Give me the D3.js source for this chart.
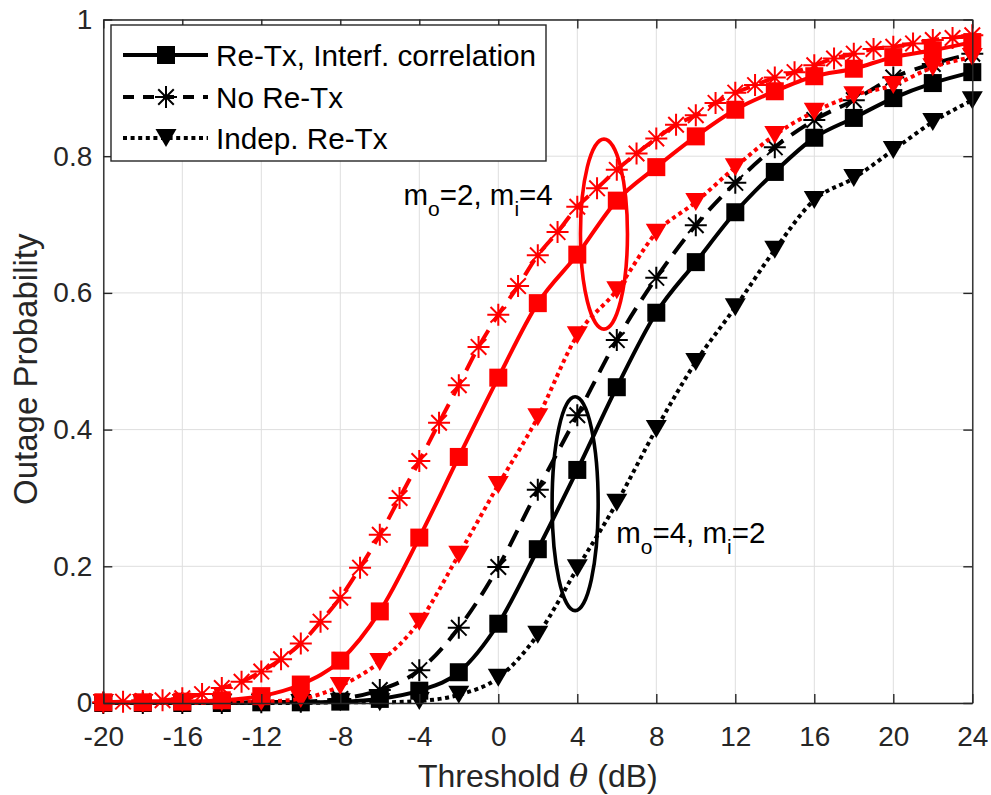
<!DOCTYPE html>
<html>
<head>
<meta charset="utf-8">
<script src="https://cdn.jsdelivr.net/npm/d3@7"></script>
<style>
  body { margin: 0; background: #fff; }
  text { font-family: "Liberation Sans", Arial, Helvetica, sans-serif; }
</style>
</head>
<body>
<svg id="chart" width="991" height="795"></svg>
<script>
// Threshold grids (dB)
const thetaStep2 = [-20, -18, -16, -14, -12, -10, -8, -6, -4, -2, 0, 2, 4, 6, 8, 10, 12, 14, 16, 18, 20, 22, 24];
const thetaStep1 = [-20, -19, -18, -17, -16, -15, -14, -13, -12, -11, -10, -9, -8, -7, -6, -5, -4, -3, -2, -1,
                    0, 1, 2, 3, 4, 5, 6, 7, 8, 9, 10, 11, 12, 13, 14, 15, 16, 17, 18, 19, 20, 21, 22, 23, 24];

// m_o = 4, m_i = 2 (black)
const corrM4 = [0, 0, 0, 0, 0.001, 0.001, 0.002, 0.006, 0.018, 0.045, 0.116, 0.225, 0.341, 0.462, 0.571,
                0.645, 0.718, 0.777, 0.827, 0.856, 0.885, 0.907, 0.923];
const noRetxM4 = [0, 0, 0, 0, 0.001, 0.002, 0.006, 0.019, 0.048, 0.11, 0.199, 0.312, 0.421, 0.531, 0.622,
                  0.699, 0.761, 0.813, 0.853, 0.882, 0.915, 0.935, 0.95];
const indepM4 = [0, 0, 0, 0, 0, 0, 0.001, 0.001, 0.003, 0.012, 0.037, 0.1, 0.197, 0.293, 0.401,
                 0.499, 0.579, 0.663, 0.736, 0.768, 0.809, 0.85, 0.882];

// m_o = 2, m_i = 4 (red)
const corrM2 = [0.001, 0.001, 0.002, 0.004, 0.01, 0.027, 0.062, 0.134, 0.242, 0.36, 0.476, 0.585, 0.656,
                0.735, 0.784, 0.829, 0.868, 0.895, 0.917, 0.928, 0.945, 0.955, 0.967];
const noRetxM2 = [0.001, 0.002, 0.003, 0.004, 0.007, 0.013, 0.022, 0.031, 0.046, 0.064, 0.087, 0.119, 0.154,
                  0.198, 0.246, 0.3, 0.354, 0.41, 0.465, 0.521, 0.568, 0.61, 0.655, 0.689, 0.726, 0.753,
                  0.78, 0.804, 0.826, 0.846, 0.86, 0.878, 0.893, 0.904, 0.915, 0.923, 0.933, 0.943, 0.95,
                  0.957, 0.96, 0.965, 0.97, 0.973, 0.977];
const indepM2 = [0, 0, 0, 0.001, 0.002, 0.006, 0.025, 0.06, 0.119, 0.217, 0.319, 0.418, 0.538, 0.604,
                 0.688, 0.733, 0.784, 0.831, 0.865, 0.889, 0.904, 0.93, 0.945];

// Axis ticks
const xTicks = [-20, -16, -12, -8, -4, 0, 4, 8, 12, 16, 20, 24];
const yTicks = [0, 0.2, 0.4, 0.6, 0.8, 1];
const yTickLabels = ["0", "0.2", "0.4", "0.6", "0.8", "1"];

// Legend entries
const legendLabels = ["Re-Tx, Interf. correlation", "No Re-Tx", "Indep. Re-Tx"];

const svg = d3.select("#chart");
const plot = { left: 103.3, right: 972.3, top: 19.5, bottom: 703 };
const x = d3.scaleLinear().domain([-20, 24]).range([plot.left, plot.right]);
const y = d3.scaleLinear().domain([0, 1]).range([plot.bottom, plot.top]);

const LW = 4;
const styles = {
  corr:  { dash: null,    legendDash: null,   marker: "square" },
  noretx:{ dash: "18,10", legendDash: "11,9", marker: "star" },
  indep: { dash: "4,3.6", legendDash: "4,3.6", marker: "tri" }
};

// Grid
const grid = svg.append("g").attr("stroke", "#dedede").attr("stroke-width", 1);
grid.selectAll("line.gx").data(xTicks).join("line").attr("class", "gx")
  .attr("x1", d => x(d)).attr("x2", d => x(d)).attr("y1", plot.top).attr("y2", plot.bottom);
grid.selectAll("line.gy").data(yTicks).join("line").attr("class", "gy")
  .attr("y1", d => y(d)).attr("y2", d => y(d)).attr("x1", plot.left).attr("x2", plot.right);

// Marker drawing
function starPath(r) {
  const d = r * Math.SQRT1_2;
  return `M${-r},0L${r},0M0,${-r}L0,${r}M${-d},${-d}L${d},${d}M${-d},${d}L${d},${-d}`;
}
function drawMarker(g, kind, color, cx, cy) {
  if (kind === "square") {
    g.append("rect").attr("x", cx - 9).attr("y", cy - 9).attr("width", 18).attr("height", 18)
      .attr("fill", color);
  } else if (kind === "star") {
    g.append("path").attr("d", starPath(11)).attr("transform", `translate(${cx},${cy})`)
      .attr("stroke", color).attr("stroke-width", 2).attr("fill", "none");
  } else {
    g.append("path").attr("d", "M-10.5,-9L10.5,-9L0,9Z").attr("transform", `translate(${cx},${cy})`)
      .attr("fill", color);
  }
}

const lineGen = d3.line().x(d => x(d[0])).y(d => y(d[1])).curve(d3.curveMonotoneX);

const series = [
  { xs: thetaStep2, ys: corrM4,   color: "#000000", style: styles.corr },
  { xs: thetaStep2, ys: noRetxM4, color: "#000000", style: styles.noretx },
  { xs: thetaStep2, ys: indepM4,  color: "#000000", style: styles.indep },
  { xs: thetaStep2, ys: corrM2,   color: "#ff0000", style: styles.corr },
  { xs: thetaStep1, ys: noRetxM2, color: "#ff0000", style: styles.noretx },
  { xs: thetaStep2, ys: indepM2,  color: "#ff0000", style: styles.indep }
];

const marks = svg.append("g");
series.forEach(s => {
  const pts = s.xs.map((v, i) => [v, s.ys[i]]);
  const g = marks.append("g");
  g.append("path").attr("d", lineGen(pts)).attr("fill", "none")
    .attr("stroke", s.color).attr("stroke-width", LW)
    .attr("stroke-dasharray", s.style.dash);
  pts.forEach(p => drawMarker(g, s.style.marker, s.color, x(p[0]), y(p[1])));
});

// Group ellipses
const ellipses = [
  { cx: 5.35, cy: 0.686, rx: 1.19, ry: 0.139, color: "#ff0000" },
  { cx: 3.89, cy: 0.2916, rx: 1.166, ry: 0.1565, color: "#000000" }
];
svg.append("g").selectAll("ellipse").data(ellipses).join("ellipse")
  .attr("cx", d => x(d.cx)).attr("cy", d => y(d.cy))
  .attr("rx", d => x(d.cx + d.rx) - x(d.cx)).attr("ry", d => y(d.cy - d.ry) - y(d.cy))
  .attr("fill", "none").attr("stroke", d => d.color).attr("stroke-width", 3.6);

// Parameter annotations
const notes = [
  { x: -4.8, y: 0.729, mo: "2", mi: "4" },
  { x: 5.97, y: 0.234, mo: "4", mi: "2" }
];
notes.forEach(n => {
  const t = svg.append("text").attr("x", x(n.x)).attr("y", y(n.y))
    .attr("font-size", 29.5).attr("fill", "#000");
  t.append("tspan").text("m");
  t.append("tspan").attr("font-size", 21).attr("dy", 11).text("o");
  t.append("tspan").attr("dy", -11).text("=" + n.mo + ", m");
  t.append("tspan").attr("font-size", 21).attr("dy", 11).text("i");
  t.append("tspan").attr("dy", -11).text("=" + n.mi);
});

// Axes with inward ticks on all four sides
const axisColor = "#262626";
function styleAxis(g) {
  g.select(".domain").attr("stroke", axisColor).attr("stroke-width", 1.4);
  g.selectAll(".tick line").attr("stroke", axisColor).attr("stroke-width", 1.4);
  g.selectAll(".tick text").attr("fill", axisColor).attr("font-size", 28)
    .attr("font-family", '"Liberation Sans", Arial, Helvetica, sans-serif');
}
svg.append("g").attr("transform", `translate(0,${plot.bottom})`)
  .call(d3.axisBottom(x).tickValues(xTicks).tickSize(-9).tickSizeOuter(0).tickPadding(23).tickFormat(d => String(d)))
  .call(styleAxis);
svg.append("g").attr("transform", `translate(0,${plot.top})`)
  .call(d3.axisTop(x).tickValues(xTicks).tickSize(-9).tickSizeOuter(0).tickFormat(""))
  .call(styleAxis);
svg.append("g").attr("transform", `translate(${plot.left},0)`)
  .call(d3.axisLeft(y).tickValues(yTicks).tickSize(-9).tickSizeOuter(0).tickPadding(11)
    .tickFormat((d, i) => yTickLabels[i]))
  .call(styleAxis);
svg.append("g").attr("transform", `translate(${plot.right},0)`)
  .call(d3.axisRight(y).tickValues(yTicks).tickSize(-9).tickSizeOuter(0).tickFormat(""))
  .call(styleAxis);

// Axis labels
const xl = svg.append("text").attr("x", (plot.left + plot.right) / 2).attr("y", 787)
  .attr("text-anchor", "middle").attr("font-size", 32).attr("fill", axisColor);
xl.append("tspan").text("Threshold ");
xl.append("tspan").attr("font-family", '"DejaVu Serif", "Liberation Serif", serif')
  .attr("font-style", "italic").text("θ");
xl.append("tspan").text(" (dB)");

svg.append("text").attr("transform", `translate(37,${(plot.top + plot.bottom) / 2 + 8}) rotate(-90)`)
  .attr("text-anchor", "middle").attr("font-size", 33).attr("fill", axisColor)
  .text("Outage Probability");

// Legend
const lg = svg.append("g");
lg.append("rect").attr("x", 111).attr("y", 25).attr("width", 435).attr("height", 136)
  .attr("fill", "#fff").attr("stroke", axisColor).attr("stroke-width", 1.4);
const legendStyles = [styles.corr, styles.noretx, styles.indep];
const rowY = [55, 97, 138];
legendLabels.forEach((lab, i) => {
  const st = legendStyles[i];
  lg.append("line").attr("x1", 123).attr("x2", 208).attr("y1", rowY[i]).attr("y2", rowY[i])
    .attr("stroke", "#000").attr("stroke-width", LW).attr("stroke-dasharray", st.legendDash);
  drawMarker(lg, st.marker, "#000", 166, rowY[i]);
  lg.append("text").attr("x", 216).attr("y", rowY[i]).attr("dy", "0.36em")
    .attr("font-size", 29.7).attr("fill", "#000").text(lab);
});
</script>
</body>
</html>
